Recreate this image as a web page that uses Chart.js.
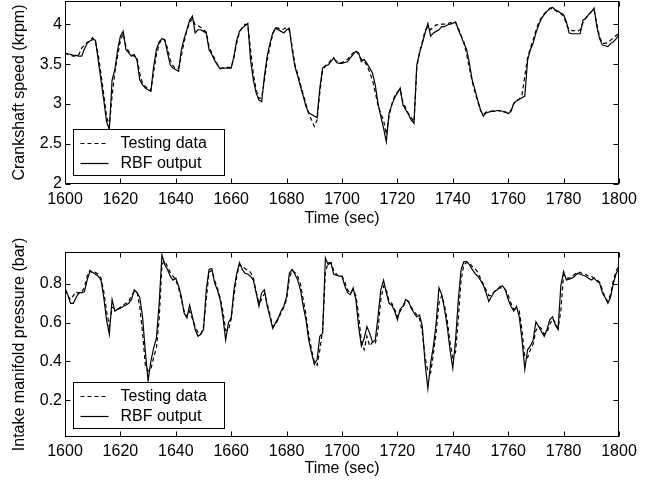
<!DOCTYPE html>
<html>
<head>
<meta charset="utf-8">
<script src="https://cdn.jsdelivr.net/npm/chart.js@4.4.1/dist/chart.umd.min.js"></script>
<style>
  html, body { margin: 0; padding: 0; background: #fff; }
  body { width: 653px; height: 481px; position: relative; overflow: hidden; }
  canvas { position: absolute; left: 0; }
  #speed-chart { top: 0; }
  #press-chart { top: 225px; }
</style>
</head>
<body>
<canvas id="speed-chart" width="653" height="240"></canvas>
<canvas id="press-chart" width="653" height="256"></canvas>
<script>
/* ---- Data (1 s sampling, 1600-1800 s) ---- */
const seconds = [
  1600,1601,1602,1603,1604,1605,1606,1607,1608,1609,
  1610,1611,1612,1613,1614,1615,1616,1617,1618,1619,
  1620,1621,1622,1623,1624,1625,1626,1627,1628,1629,
  1630,1631,1632,1633,1634,1635,1636,1637,1638,1639,
  1640,1641,1642,1643,1644,1645,1646,1647,1648,1649,
  1650,1651,1652,1653,1654,1655,1656,1657,1658,1659,
  1660,1661,1662,1663,1664,1665,1666,1667,1668,1669,
  1670,1671,1672,1673,1674,1675,1676,1677,1678,1679,
  1680,1681,1682,1683,1684,1685,1686,1687,1688,1689,
  1690,1691,1692,1693,1694,1695,1696,1697,1698,1699,
  1700,1701,1702,1703,1704,1705,1706,1707,1708,1709,
  1710,1711,1712,1713,1714,1715,1716,1717,1718,1719,
  1720,1721,1722,1723,1724,1725,1726,1727,1728,1729,
  1730,1731,1732,1733,1734,1735,1736,1737,1738,1739,
  1740,1741,1742,1743,1744,1745,1746,1747,1748,1749,
  1750,1751,1752,1753,1754,1755,1756,1757,1758,1759,
  1760,1761,1762,1763,1764,1765,1766,1767,1768,1769,
  1770,1771,1772,1773,1774,1775,1776,1777,1778,1779,
  1780,1781,1782,1783,1784,1785,1786,1787,1788,1789,
  1790,1791,1792,1793,1794,1795,1796,1797,1798,1799,
  1800
];

// Crankshaft speed (krpm)
const speedTest = [
  3.64,3.62,3.61,3.60,3.60,3.62,3.70,3.74,3.77,3.80,
  3.83,3.78,3.62,3.38,3.12,2.85,2.72,3.10,3.40,3.60,
  3.80,3.88,3.72,3.66,3.62,3.60,3.58,3.38,3.26,3.22,
  3.19,3.17,3.40,3.62,3.75,3.82,3.80,3.70,3.55,3.48,
  3.44,3.45,3.60,3.78,3.92,4.02,4.07,3.99,3.98,3.96,
  3.93,3.90,3.72,3.64,3.57,3.50,3.45,3.45,3.46,3.46,
  3.46,3.58,3.76,3.90,3.96,4.00,3.99,3.68,3.38,3.18,
  3.07,3.08,3.30,3.55,3.72,3.88,3.96,3.95,3.93,3.94,
  3.96,3.92,3.72,3.50,3.38,3.25,3.12,3.00,2.88,2.80,
  2.72,2.80,3.15,3.42,3.48,3.50,3.55,3.56,3.54,3.52,
  3.52,3.54,3.56,3.60,3.64,3.67,3.62,3.56,3.54,3.48,
  3.40,3.30,3.15,2.98,2.88,2.80,2.62,2.85,3.00,3.10,
  3.15,3.18,3.02,2.95,2.88,2.83,2.78,3.45,3.65,3.78,
  3.92,3.97,3.93,3.97,3.99,3.99,4.00,4.00,4.00,4.02,
  4.02,4.02,3.95,3.86,3.78,3.62,3.45,3.28,3.15,3.03,
  2.92,2.87,2.90,2.91,2.91,2.92,2.92,2.91,2.90,2.90,
  2.89,2.92,3.00,3.05,3.06,3.12,3.35,3.58,3.70,3.80,
  3.92,4.02,4.08,4.13,4.17,4.19,4.20,4.17,4.15,4.13,
  4.10,4.00,3.93,3.92,3.92,3.91,3.93,4.02,4.08,4.12,
  4.16,4.18,4.00,3.84,3.76,3.76,3.77,3.80,3.83,3.86,
  3.88
];
const speedRbf = [
  3.64,3.63,3.62,3.61,3.61,3.60,3.60,3.69,3.76,3.79,
  3.81,3.80,3.55,3.30,3.05,2.78,2.68,3.30,3.43,3.68,
  3.85,3.91,3.68,3.64,3.60,3.62,3.55,3.30,3.24,3.20,
  3.18,3.16,3.47,3.68,3.78,3.82,3.81,3.64,3.49,3.45,
  3.43,3.41,3.68,3.82,3.93,4.05,4.10,3.89,3.93,3.93,
  3.91,3.89,3.68,3.62,3.55,3.49,3.44,3.45,3.45,3.45,
  3.45,3.60,3.80,3.91,3.95,3.98,4.01,3.55,3.30,3.14,
  3.05,3.03,3.35,3.60,3.76,3.89,3.95,3.93,3.91,3.89,
  3.93,3.95,3.68,3.47,3.35,3.22,3.10,2.97,2.89,2.87,
  2.85,2.83,3.20,3.45,3.48,3.49,3.53,3.58,3.52,3.51,
  3.51,3.52,3.53,3.58,3.62,3.66,3.64,3.53,3.56,3.51,
  3.45,3.39,3.24,3.01,2.85,2.70,2.53,2.89,2.99,3.08,
  3.14,3.20,2.99,2.93,2.87,2.80,2.76,3.49,3.64,3.76,
  3.89,4.01,3.85,3.89,3.91,3.93,3.97,3.97,3.99,4.00,
  4.01,4.03,3.93,3.85,3.76,3.68,3.51,3.30,3.18,3.05,
  2.93,2.85,2.89,2.90,2.91,2.91,2.92,2.92,2.91,2.90,
  2.88,2.91,3.01,3.04,3.06,3.08,3.10,3.55,3.68,3.76,
  3.89,3.99,4.07,4.12,4.16,4.20,4.21,4.18,4.16,4.14,
  4.12,4.03,3.89,3.88,3.88,3.88,3.88,4.05,4.07,4.12,
  4.15,4.20,3.97,3.82,3.74,3.73,3.72,3.76,3.78,3.82,
  3.87
];

// Intake manifold pressure (bar)
const pressTest = [
  0.77,0.74,0.72,0.74,0.76,0.75,0.76,0.78,0.84,0.87,
  0.86,0.86,0.85,0.83,0.76,0.66,0.58,0.68,0.67,0.67,
  0.68,0.69,0.70,0.71,0.74,0.76,0.76,0.68,0.55,0.38,
  0.35,0.36,0.42,0.47,0.62,0.90,0.92,0.89,0.86,0.84,
  0.82,0.78,0.72,0.66,0.63,0.66,0.62,0.58,0.55,0.54,
  0.58,0.72,0.86,0.87,0.82,0.78,0.73,0.66,0.56,0.56,
  0.62,0.74,0.84,0.90,0.89,0.88,0.87,0.86,0.83,0.76,
  0.70,0.72,0.75,0.70,0.64,0.58,0.59,0.62,0.65,0.68,
  0.72,0.83,0.87,0.86,0.84,0.80,0.72,0.64,0.54,0.46,
  0.40,0.38,0.46,0.56,0.86,0.91,0.91,0.87,0.85,0.84,
  0.84,0.81,0.77,0.75,0.77,0.74,0.64,0.50,0.46,0.53,
  0.48,0.50,0.49,0.56,0.72,0.79,0.77,0.71,0.70,0.67,
  0.63,0.66,0.68,0.71,0.71,0.68,0.66,0.64,0.62,0.55,
  0.42,0.35,0.34,0.44,0.55,0.70,0.74,0.69,0.61,0.50,
  0.42,0.45,0.62,0.82,0.90,0.91,0.91,0.89,0.88,0.86,
  0.83,0.80,0.77,0.74,0.74,0.76,0.77,0.78,0.78,0.77,
  0.74,0.70,0.67,0.67,0.66,0.56,0.42,0.42,0.46,0.49,
  0.56,0.58,0.57,0.54,0.55,0.59,0.62,0.60,0.57,0.66,
  0.85,0.83,0.83,0.84,0.85,0.86,0.86,0.85,0.85,0.84,
  0.84,0.83,0.82,0.81,0.77,0.73,0.71,0.75,0.82,0.87,
  0.89
];
const pressRbf = [
  0.78,0.745,0.70,0.70,0.73,0.755,0.755,0.76,0.82,0.865,
  0.86,0.85,0.84,0.82,0.73,0.615,0.54,0.72,0.66,0.67,
  0.675,0.685,0.69,0.70,0.72,0.77,0.755,0.73,0.63,0.45,
  0.30,0.40,0.47,0.52,0.70,0.95,0.90,0.875,0.84,0.82,
  0.83,0.79,0.735,0.65,0.625,0.69,0.63,0.565,0.53,0.54,
  0.565,0.77,0.875,0.88,0.805,0.77,0.72,0.63,0.51,0.60,
  0.625,0.77,0.855,0.91,0.875,0.855,0.85,0.84,0.82,0.755,
  0.685,0.755,0.77,0.685,0.63,0.57,0.60,0.625,0.66,0.685,
  0.735,0.855,0.875,0.85,0.82,0.77,0.685,0.615,0.51,0.445,
  0.385,0.41,0.53,0.545,0.935,0.90,0.91,0.85,0.845,0.84,
  0.84,0.79,0.755,0.745,0.78,0.72,0.58,0.48,0.52,0.58,
  0.545,0.50,0.51,0.63,0.77,0.82,0.755,0.70,0.69,0.66,
  0.615,0.67,0.685,0.72,0.71,0.675,0.65,0.63,0.64,0.58,
  0.39,0.26,0.39,0.48,0.60,0.78,0.745,0.67,0.58,0.46,
  0.365,0.51,0.72,0.875,0.915,0.915,0.90,0.875,0.855,0.84,
  0.82,0.795,0.755,0.71,0.735,0.76,0.77,0.785,0.79,0.77,
  0.72,0.685,0.66,0.685,0.63,0.51,0.36,0.46,0.48,0.51,
  0.605,0.58,0.555,0.53,0.565,0.615,0.63,0.59,0.565,0.79,
  0.865,0.82,0.825,0.83,0.84,0.855,0.85,0.845,0.84,0.83,
  0.82,0.83,0.815,0.805,0.755,0.73,0.70,0.735,0.805,0.855,
  0.88
];

const xTicks = [1600, 1620, 1640, 1660, 1680, 1700, 1720, 1740, 1760, 1780, 1800];
const speedTicks = [2, 2.5, 3, 3.5, 4];
const pressTicks = [0.2, 0.4, 0.6, 0.8];

const FONT = "'Liberation Sans', Arial, sans-serif";
Chart.defaults.font.family = FONT;
Chart.defaults.font.size = 16;
Chart.defaults.color = '#000';
Chart.defaults.animation = false;

/* ---- Matlab-style box, inward ticks and boxed legend ---- */
const matlabFrame = {
  id: 'matlabFrame',
  afterDraw(chart) {
    const { ctx, chartArea: a, scales } = chart;
    const L = Math.round(a.left) + 0.5, R = Math.round(a.right) - 0.5;
    const T = Math.round(a.top) + 0.5, B = Math.round(a.bottom) - 0.5;
    ctx.save();
    ctx.strokeStyle = '#000';
    ctx.lineWidth = 1;
    ctx.setLineDash([]);
    ctx.strokeRect(L, T, R - L, B - T);

    ctx.beginPath();
    scales.x.ticks.forEach(t => {
      const px = Math.round(scales.x.getPixelForValue(t.value)) + 0.5;
      ctx.moveTo(px, B); ctx.lineTo(px, B - 5);
      ctx.moveTo(px, T); ctx.lineTo(px, T + 5);
    });
    scales.y.ticks.forEach(t => {
      const py = Math.round(scales.y.getPixelForValue(t.value)) + 0.5;
      ctx.moveTo(L, py); ctx.lineTo(L + 5, py);
      ctx.moveTo(R, py); ctx.lineTo(R - 5, py);
    });
    ctx.stroke();

    // legend box, lower left
    const bx = Math.round(a.left) + 8.5, bw = 151, bh = 46;
    const by = Math.round(a.bottom) - 8.5 - bh;
    ctx.fillStyle = '#fff';
    ctx.fillRect(bx, by, bw, bh);
    ctx.strokeRect(bx, by, bw, bh);
    ctx.font = '16px ' + FONT;
    ctx.textBaseline = 'middle';
    ctx.fillStyle = '#000';
    chart.data.datasets.forEach((ds, i) => {
      const y = Math.round(by + 13 + i * 20) + 0.5;
      ctx.setLineDash(ds.borderDash || []);
      ctx.lineWidth = ds.borderWidth;
      ctx.beginPath();
      ctx.moveTo(bx + 7, y);
      ctx.lineTo(bx + 35, y);
      ctx.stroke();
      ctx.fillText(ds.label, bx + 47, y);
    });
    ctx.restore();
  }
};

function series(values) {
  return seconds.map((t, i) => ({ x: t, y: values[i] }));
}

function makePlot(id, test, rbf, opts) {
  return new Chart(document.getElementById(id), {
    type: 'line',
    data: {
      datasets: [
        { label: 'Testing data', data: series(test), borderColor: '#000',
          borderWidth: 1.2, borderDash: [4, 3], pointRadius: 0, tension: 0 },
        { label: 'RBF output', data: series(rbf), borderColor: '#000',
          borderWidth: 1.2, pointRadius: 0, tension: 0 },
      ]
    },
    options: {
      responsive: false,
      layout: { padding: { top: opts.padTop, right: 34, left: 0, bottom: 0 } },
      plugins: { legend: { display: false }, tooltip: { enabled: false } },
      scales: {
        x: {
          type: 'linear', min: 1600, max: 1800,
          grid: { display: false, drawTicks: false },
          border: { display: false },
          ticks: { padding: opts.tickPad, maxRotation: 0, autoSkip: false, callback: v => v },
          afterBuildTicks: s => { s.ticks = xTicks.map(v => ({ value: v })); },
          afterFit: s => { s.height = opts.xHeight; s.paddingLeft = 0; s.paddingRight = 0; },
          title: { display: true, text: 'Time (sec)', padding: { top: 0, bottom: opts.titlePad } },
        },
        y: {
          min: opts.yMin, max: opts.yMax,
          grid: { display: false, drawTicks: false },
          border: { display: false },
          ticks: { padding: 3, callback: v => v },
          afterBuildTicks: s => { s.ticks = opts.yTicks.map(v => ({ value: v })); },
          afterFit: s => { s.width = 65; s.paddingTop = 0; s.paddingBottom = 0; },
          title: { display: true, text: opts.yTitle, padding: { top: 10, bottom: 0 } },
        }
      }
    },
    plugins: [matlabFrame]
  });
}

makePlot('speed-chart', speedTest, speedRbf, {
  yMin: 2, yMax: 4.29, yTicks: speedTicks, yTitle: 'Crankshaft speed (krpm)',
  padTop: 1, xHeight: 56, tickPad: 6, titlePad: 12,
});

makePlot('press-chart', pressTest, pressRbf, {
  yMin: 0.01, yMax: 0.965, yTicks: pressTicks, yTitle: 'Intake manifold pressure (bar)',
  padTop: 27, xHeight: 44, tickPad: 5, titlePad: 3,
});
</script>
</body>
</html>
